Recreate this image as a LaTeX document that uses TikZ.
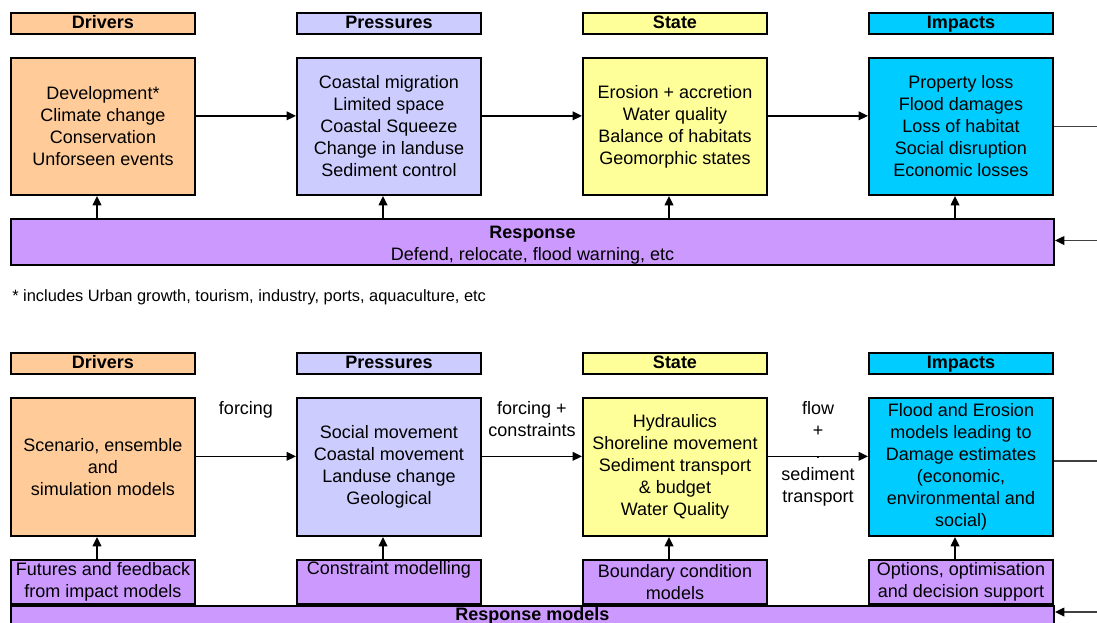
\documentclass[tikz,border=0pt]{standalone}
\usepackage{fontspec}
\setmainfont{Liberation Sans}
\usetikzlibrary{arrows.meta, positioning}

\definecolor{drvc}{RGB}{255,204,153}
\definecolor{prsc}{RGB}{204,204,255}
\definecolor{stac}{RGB}{255,255,153}
\definecolor{impc}{RGB}{0,204,255}
\definecolor{resc}{RGB}{204,153,255}

\begin{document}
\begin{tikzpicture}[
        x=0.75pt, y=-0.75pt,
        font=\fontsize{13.5}{16.5}\selectfont,
        hdr/.style={rectangle, draw=black, line width=1.5pt, minimum width=138pt, minimum height=15.75pt, inner sep=0pt, text height=9.7pt, text depth=2.8pt, font=\fontsize{13.5}{16.5}\selectfont\bfseries},
        box/.style={rectangle, draw=black, line width=1.5pt, minimum width=138pt, minimum height=102.75pt, inner sep=0pt, align=center},
        resp/.style={rectangle, draw=black, line width=1.5pt, fill=resc, minimum width=782.25pt, inner sep=1pt, align=center},
        sub/.style={rectangle, draw=black, line width=1.5pt, fill=resc, minimum width=138pt, minimum height=33pt, inner sep=0pt, align=center},
        arrow/.style={-{Triangle[length=7pt, width=6.5pt]}, line width=1.1pt},
        inarrow/.style={-{Triangle[length=7pt, width=6.5pt, color=black]}, line width=1.1pt, draw=black!75},
        exitline/.style={line width=0.8pt, draw=black!75},
        lab/.style={align=center, inner sep=0pt},
        note/.style={font=\fontsize{12.3}{14}\selectfont, inner sep=0pt}
    ]
    \useasboundingbox (0,0) rectangle (1097,622);
    \clip (0,0) rectangle (1097,622);

    % Off-page ends
    \coordinate (edgeR) at (1100,0);
    \coordinate (inT) at (1100,240.5);
    \coordinate (inB) at (1100,612);

    % Nodes: upper DPSIR chain
    \node[hdr, fill=drvc, anchor=north west] (drvH) at (10,12) {Drivers};
    \node[hdr, fill=prsc, right=75pt of drvH] (prsH) {Pressures};
    \node[hdr, fill=stac, right=75pt of prsH] (staH) {State};
    \node[hdr, fill=impc, right=75pt of staH] (impH) {Impacts};

    \node[box, fill=drvc, below=16.5pt of drvH] (drv) {Development*\\Climate change\\Conservation\\Unforseen events};
    \node[box, fill=prsc, below=16.5pt of prsH] (prs) {Coastal migration\\Limited space\\Coastal Squeeze\\Change in landuse\\Sediment control};
    \node[box, fill=stac, below=16.5pt of staH] (sta) {Erosion + accretion\\Water quality\\Balance of habitats\\Geomorphic states};
    \node[box, fill=impc, below=16.5pt of impH] (imp) {Property loss\\Flood damages\\Loss of habitat\\Social disruption\\Economic losses};

    \node[resp, minimum height=32.25pt, below=16.5pt of drv.south west, anchor=north west] (resp) {\rule{0pt}{13.5pt}\textbf{Response}\\Defend, relocate, flood warning, etc};

    \node[note, anchor=west] (fn) at (12,297) {* includes Urban growth, tourism, industry, ports, aquaculture, etc};

    % Nodes: lower modelling chain
    \node[hdr, fill=drvc, anchor=north west] (drvH2) at (10,352) {Drivers};
    \node[hdr, fill=prsc, right=75pt of drvH2] (prsH2) {Pressures};
    \node[hdr, fill=stac, right=75pt of prsH2] (staH2) {State};
    \node[hdr, fill=impc, right=75pt of staH2] (impH2) {Impacts};

    \node[box, fill=drvc, minimum height=103.5pt, below=16.5pt of drvH2] (drv2) {Scenario, ensemble\\and\\simulation models};
    \node[box, fill=prsc, minimum height=103.5pt, below=16.5pt of prsH2] (prs2) {Social movement\\Coastal movement\\Landuse change\\Geological};
    \node[box, fill=stac, minimum height=103.5pt, below=16.5pt of staH2] (sta2) {Hydraulics\\Shoreline movement\\Sediment transport\\\& budget\\Water Quality};
    \node[box, fill=impc, minimum height=103.5pt, below=16.5pt of impH2] (imp2) {Flood and Erosion\\models leading to\\Damage estimates\\(economic,\\environmental and\\social)};

    \node[sub, below=16.5pt of drv2] (drvM) {Futures and feedback\\from impact models};
    \node[sub, below=16.5pt of prs2] (prsM) {Constraint modelling\\\strut};
    \node[sub, below=16.5pt of sta2] (staM) {Boundary condition\\models};
    \node[sub, below=16.5pt of imp2] (impM) {Options, optimisation\\and decision support};

    \node[resp, below=0pt of drvM.south west, anchor=north west] (resp2) {\textbf{Response models}};

    % Edges: upper chain
    \draw[arrow] ([yshift=8pt]drv.east) -- ([yshift=8pt]prs.west);
    \draw[arrow] ([yshift=8pt]prs.east) -- ([yshift=8pt]sta.west);
    \draw[arrow] ([yshift=8pt]sta.east) -- ([yshift=8pt]imp.west);
    \draw[exitline] (imp.east) -- (imp.east -| edgeR);

    \foreach \n in {drv, prs, sta, imp}
        \draw[arrow] ([xshift=-4.5pt]\n.south |- resp.north) -- ([xshift=-4.5pt]\n.south);
    \draw[inarrow] (inT) -- (inT -| resp.east);

    % Edges: lower chain
    \draw[arrow] ([yshift=8pt]drv2.east) -- node[lab, anchor=north, yshift=42pt] {forcing} ([yshift=8pt]prs2.west);
    \draw[arrow] ([yshift=8pt]prs2.east) -- node[lab, anchor=north, yshift=42pt] {forcing +\\constraints} ([yshift=8pt]sta2.west);
    \draw[arrow] ([yshift=8pt]sta2.east) -- node[lab, yshift=2pt] {flow\\+\\.\\sediment\\transport} ([yshift=8pt]imp2.west);
    \draw[exitline] ([yshift=4.5pt]imp2.east) -- ++(45,0);

    \foreach \n in {drv, prs, sta, imp}
        \draw[arrow] ([xshift=-4.5pt]\n M.north) -- ([xshift=-4.5pt]\n 2.south);
    \draw[inarrow] (inB) -- (inB -| resp2.east);

\end{tikzpicture}
\end{document}
